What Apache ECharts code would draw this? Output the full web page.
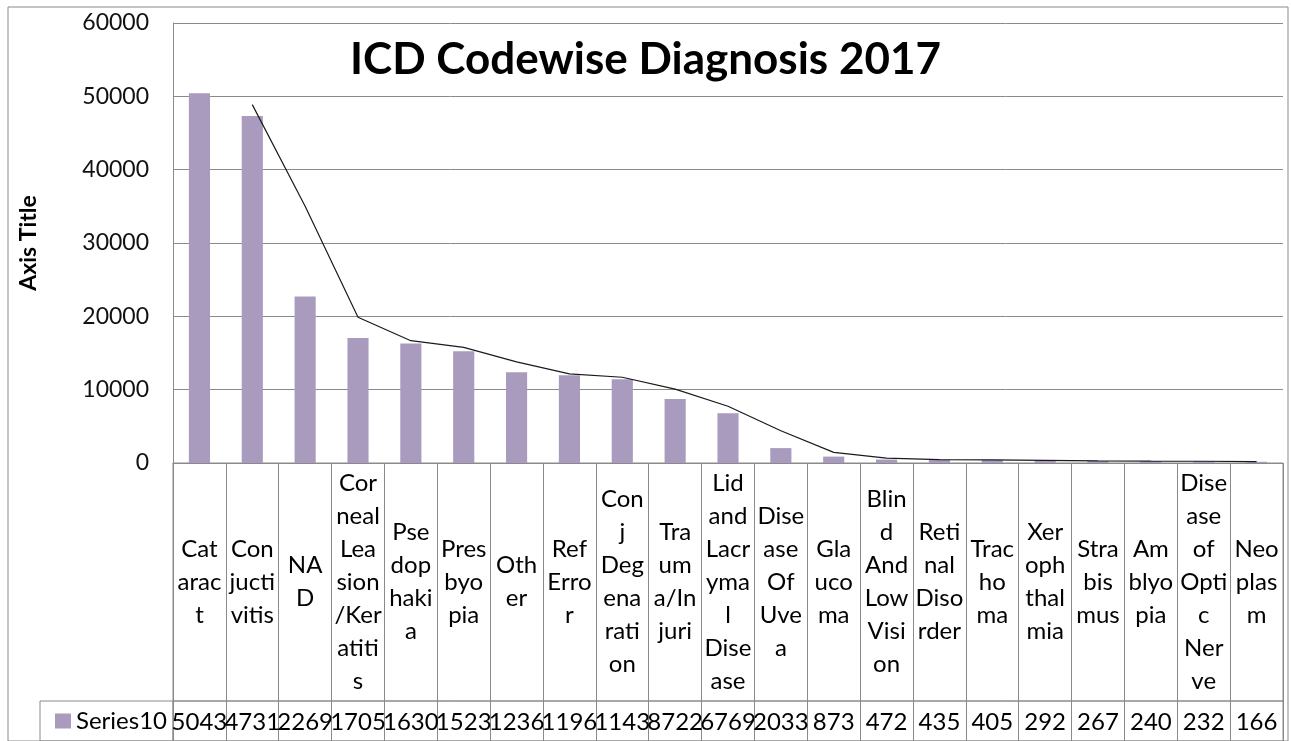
<!DOCTYPE html>
<html>
<head>
<meta charset="utf-8">
<script src="https://cdn.jsdelivr.net/npm/echarts@6/dist/echarts.min.js"></script>
<style>
html,body{margin:0;padding:0;background:#fff;}
#c{width:1291px;height:741px;}
</style>
</head>
<body>
<div id="c"></div>
<script>
// Category labels as shown (wrapped as in the reference data table)
const categories = ['Cat\narac\nt', 'Con\njucti\nvitis', 'NA\nD', 'Cor\nneal\nLea\nsion\n/Ker\natiti\ns', 'Pse\ndop\nhaki\na', 'Pres\nbyo\npia', 'Oth\ner', 'Ref\nErro\nr', 'Con\nj\nDeg\nena\nrati\non', 'Tra\num\na/In\njuri', 'Lid\nand\nLacr\nyma\nl\nDise\nase', 'Dise\nase\nOf\nUve\na', 'Gla\nuco\nma', 'Blin\nd\nAnd\nLow\nVisi\non', 'Reti\nnal\nDiso\nrder', 'Trac\nho\nma', 'Xer\noph\nthal\nmia', 'Stra\nbis\nmus', 'Am\nblyo\npia', 'Dise\nase\nof\nOpti\nc\nNer\nve', 'Neo\nplas\nm'];
// Series10 values (bars)
const series10 = [50430, 47310, 22690, 17050, 16300, 15230, 12360, 11960, 11430, 8722, 6769, 2033, 873, 472, 435, 405, 292, 267, 240, 232, 166];
// Trend line values
const trendLine = [null, 48870, 35000, 19870, 16675, 15765, 13795, 12160, 11695, 10076, 7745, 4400, 1453, 672, 453, 420, 348, 279, 253, 236, 199];
// Y axis ticks
const yTicks = { min: 0, max: 60000, interval: 10000 };

const FONT = 'Lato';
const GRID_C = '#8a8a8a';
const chart = echarts.init(document.getElementById('c'));
const hiddenX = (g) => ({ gridIndex: g, type: 'value', show: false });
const hiddenY = (g) => ({ gridIndex: g, type: 'value', show: false });

chart.setOption({
  animation: false,
  backgroundColor: '#fff',
  title: {
    text: 'ICD Codewise Diagnosis 2017',
    left: 'center',
    top: 33,
    textStyle: { fontFamily: FONT, fontSize: 44, fontWeight: 'bold', color: '#000' }
  },
  legend: {
    data: ['Series10'],
    left: 50,
    top: 704,
    icon: 'rect',
    itemWidth: 16,
    itemHeight: 15,
    itemGap: 4,
    textStyle: { fontFamily: FONT, fontSize: 24, color: '#000', padding: [0, 0, 0, 0] }
  },
  grid: [
    { left: 173, top: 23, width: 1110, height: 440 },
    { left: 173, top: 463, width: 1110, height: 238, show: true, borderColor: GRID_C, borderWidth: 1 },
    { left: 173, top: 701, width: 1110, height: 70, show: true, borderColor: GRID_C, borderWidth: 1 },
    { left: 40, top: 701, width: 133, height: 70, show: true, borderColor: GRID_C, borderWidth: 1 },
    { left: 8, top: 7, width: 1280, height: 780, show: true, borderColor: GRID_C, borderWidth: 1 }
  ],
  xAxis: [
    { gridIndex: 0, type: 'category', data: categories, axisLabel: { show: false }, axisTick: { show: false },
      axisLine: { show: true, lineStyle: { color: GRID_C } } },
    { gridIndex: 1, type: 'category', data: categories, position: 'top',
      axisLine: { show: false }, axisTick: { show: false },
      splitLine: { show: true, interval: 0, lineStyle: { color: GRID_C, width: 1 } },
      axisLabel: { inside: true, margin: 119, interval: 0, verticalAlign: 'middle', align: 'center',
        fontFamily: FONT, fontSize: 24, lineHeight: 33, color: '#000' } },
    { gridIndex: 2, type: 'category', data: categories, position: 'top',
      axisLine: { show: false }, axisTick: { show: false },
      splitLine: { show: true, interval: 0, lineStyle: { color: GRID_C, width: 1 } },
      axisLabel: { inside: true, margin: 21, interval: 0, verticalAlign: 'middle', align: 'center',
        fontFamily: FONT, fontSize: 24, color: '#000', width: 58, overflow: 'truncate', ellipsis: '',
        formatter: (v, i) => String(series10[i]) } },
    hiddenX(3), hiddenX(4)
  ],
  yAxis: [
    { gridIndex: 0, type: 'value', min: yTicks.min, max: yTicks.max, interval: yTicks.interval,
      name: 'Axis Title', nameLocation: 'middle', nameRotate: 90, nameGap: 133,
      nameTextStyle: { fontFamily: FONT, fontSize: 23, fontWeight: 'bold', color: '#000' },
      axisLine: { show: true, lineStyle: { color: GRID_C } }, axisTick: { show: false },
      axisLabel: { margin: 24, fontFamily: FONT, fontSize: 23, color: '#111',
        formatter: (v) => String(v) },
      splitLine: { show: true, lineStyle: { color: GRID_C, width: 1 } } },
    hiddenY(1), hiddenY(2), hiddenY(3), hiddenY(4)
  ],
  series: [
    { name: 'Series10', type: 'bar', xAxisIndex: 0, yAxisIndex: 0, data: series10,
      barWidth: '40%', itemStyle: { color: '#A99BBE' } },
    { name: '2 per. Mov. Avg. (Series10)', type: 'line', xAxisIndex: 0, yAxisIndex: 0, data: trendLine,
      showSymbol: false, symbol: 'none', connectNulls: false,
      lineStyle: { color: '#1a1a1a', width: 1.2 }, itemStyle: { color: '#1a1a1a' } }
  ]
});
</script>
</body>
</html>
